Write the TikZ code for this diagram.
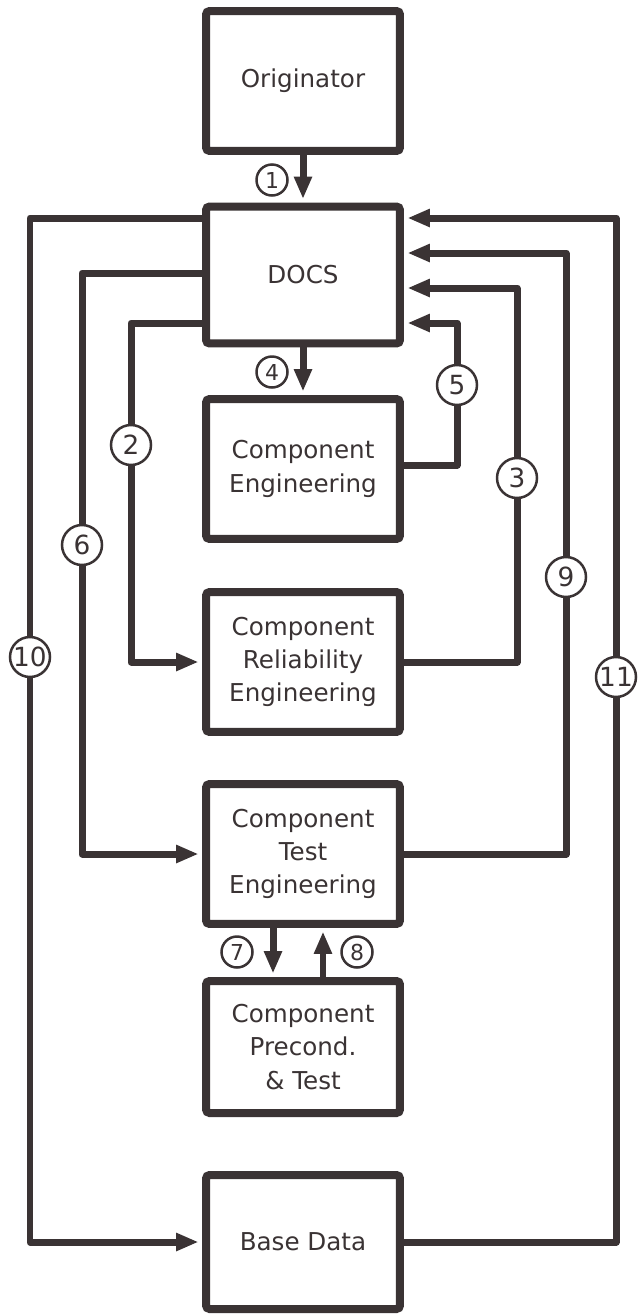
\documentclass[tikz,border=0pt]{standalone}
\usepackage{fontspec}
\setmainfont{DejaVu Sans}
\usepackage{tikz}
\usetikzlibrary{arrows.meta}
\definecolor{flowink}{HTML}{3A3334}

\begin{document}
\begin{tikzpicture}[x=0.02cm,y=-0.02cm,>={Triangle[length=0.45cm,width=0.34cm]},font=\fontsize{14}{19}\selectfont]
\tikzset{
unit/.style={draw=flowink,line width=0.16cm,rounded corners=2pt,fill=white,minimum width=3.88cm,minimum height=2.8cm,align=center,text=flowink},
a/.style={->,line width=0.14cm,color=flowink,line join=round,shorten >=0.07cm},
num/.style={circle,draw=flowink,line width=0.05cm,fill=white,minimum size=0.8cm,inner sep=0pt,text=flowink,font=\fontsize{15}{15}\selectfont},
numsm/.style={num,minimum size=0.62cm,font=\fontsize{12.5}{12.5}\selectfont}}

\useasboundingbox (0,0) rectangle (638,1315);

\node[unit] (orig) at (303,81) {Originator};
\node[unit,minimum height=2.74cm] (docs) at (303,275) {DOCS};
\node[unit] (ceng) at (303,469) {Component\\Engineering};
\node[unit] (crel) at (303,662) {Component\\Reliability\\Engineering};
\node[unit] (ctest) at (303,854) {Component\\Test\\Engineering};
\node[unit,minimum height=2.64cm] (cpre) at (303,1047) {Component\\Precond.\\\& Test};
\node[unit,minimum height=2.68cm] (base) at (303,1242) {Base Data};

% straight hand-overs down the middle
\draw[a] (orig) -- (docs);
\draw[a] (docs) -- (ceng);
\draw[a] ([xshift=-0.6cm]ctest.south) -- ([xshift=-0.6cm]cpre.north);
\draw[a] ([xshift=0.4cm]cpre.north) -- ([xshift=0.4cm]ctest.south);

% DOCS sends out on the left
\draw[a] (docs.west |- 0,218) -| (30,1242) -- (base.west);
\draw[a] (docs.west |- 0,273) -| (82,854) -- (ctest.west);
\draw[a] (docs.west |- 0,323) -| (131,662) -- (crel.west);

% returns to DOCS on the right
\draw[a] (ceng.east |- 0,465) -| (457,323) -- (docs.east |- 0,323);
\draw[a] (crel.east) -| (517,288) -- (docs.east |- 0,288);
\draw[a] (ctest.east) -| (566,253) -- (docs.east |- 0,253);
\draw[a] (base.east) -| (616,218) -- (docs.east |- 0,218);

\node[numsm] (n1) at (272,180) {1};
\node[num] (n2) at (131,445) {2};
\node[num] (n3) at (517,478) {3};
\node[numsm] (n4) at (272,372) {4};
\node[num] (n5) at (457,385) {5};
\node[num] (n6) at (82,545) {6};
\node[numsm] (n7) at (237,952) {7};
\node[numsm] (n8) at (357,952) {8};
\node[num] (n9) at (566,577) {9};
\node[num] (n10) at (30,657) {10};
\node[num] (n11) at (616,677) {11};
\end{tikzpicture}
\end{document}
